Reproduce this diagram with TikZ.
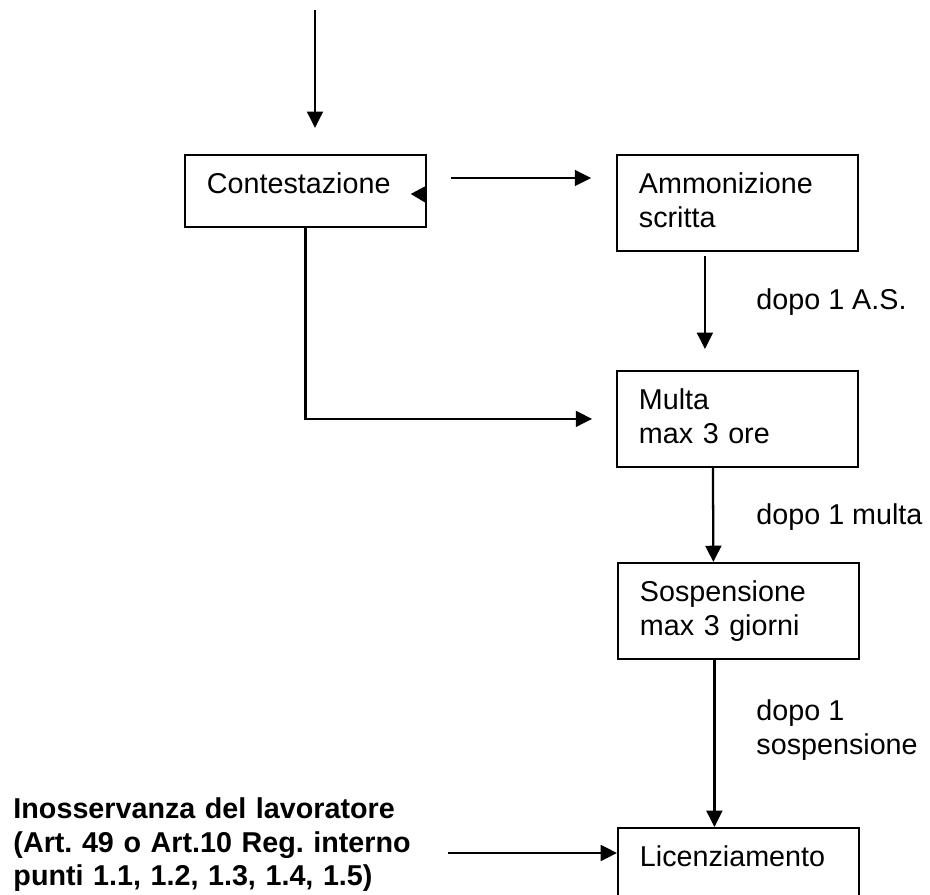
\documentclass[tikz,border=0pt]{standalone}
\usepackage{fontspec}
\setmainfont{Liberation Sans}
\usetikzlibrary{arrows.meta}
\tikzstyle{block} = [rectangle, draw, line width=0.8pt, anchor=north west,
    text width=82.3pt, align=left, inner xsep=9.2pt, inner ysep=0pt,
    text height=16.3pt, text depth=23.8pt]
\tikzstyle{line} = [draw, line width=0.95pt, -{Triangle[length=6.8pt,width=6.6pt]}]
\tikzstyle{remark} = [anchor=west, align=left, inner sep=0pt]

\begin{document}
\frenchspacing
\begin{tikzpicture}[x=0.418pt, y=-0.418pt, font=\fontsize{12pt}{14.2pt}\selectfont]
    \path [use as bounding box, clip] (0,0) rectangle (930,895);
    % Place nodes
    \node [block, text depth=13.8pt] (contest) at (184,154) {Contestazione};
    \node [block] (ammon) at (616,154) {Ammonizione\\ scritta};
    \node [block] (multa) at (616,370) {Multa\\ max 3 ore};
    \node [block] (sosp) at (617,562) {Sospensione\\ max 3 giorni};
    \node [block] (licenz) at (617,827) {Licenziamento};
    \node [remark] (dopoAS) at (756,302) {dopo 1 A.S.};
    \node [remark] (dopoMulta) at (756,517) {dopo 1 multa};
    \node [remark] (dopoSosp) at (756,730) {dopo 1\\ sospensione};
    \node [remark, anchor=base west, text width=181.4pt,
        font=\fontsize{12pt}{13.8pt}\selectfont\bfseries] (inoss) at (13,819)
        {Inosservanza del lavoratore\\ (Art. 49 o Art.10 Reg. interno\\ punti 1.1, 1.2, 1.3, 1.4, 1.5)};
    \coordinate (start) at (315,10);
    \coordinate (entry) at ([shift={(0,26)}]licenz.north west);
    % Draw edges
    \path [line, shorten >=10.9pt] (start) -- (start |- contest.north);
    \path [line, shorten <=10pt, shorten >=10.4pt] ([shift={(0,24)}]contest.north east) -- ([shift={(0,24)}]ammon.north west);
    \fill ([shift={(-1,-5)}]contest.east) -- ([shift={(-1,12)}]contest.east) -- ([shift={(-16,3)}]contest.east) -- cycle;
    \path [line] ([shift={(-32.5,4)}]ammon.south) -- ([shift={(-32.5,-21)}]multa.north);
    \path [line, shorten >=10pt] (contest) |- (multa);
    \path [line] ([shift={(-24.5,0)}]multa.south) -- ([shift={(-25,0)}]sosp.north);
    \path [line] ([shift={(-24,0)}]sosp.south) -- ([shift={(-24,0)}]licenz.north);
    \path [line] (inoss.east |- entry) -- (entry);

\end{tikzpicture}
\end{document}
